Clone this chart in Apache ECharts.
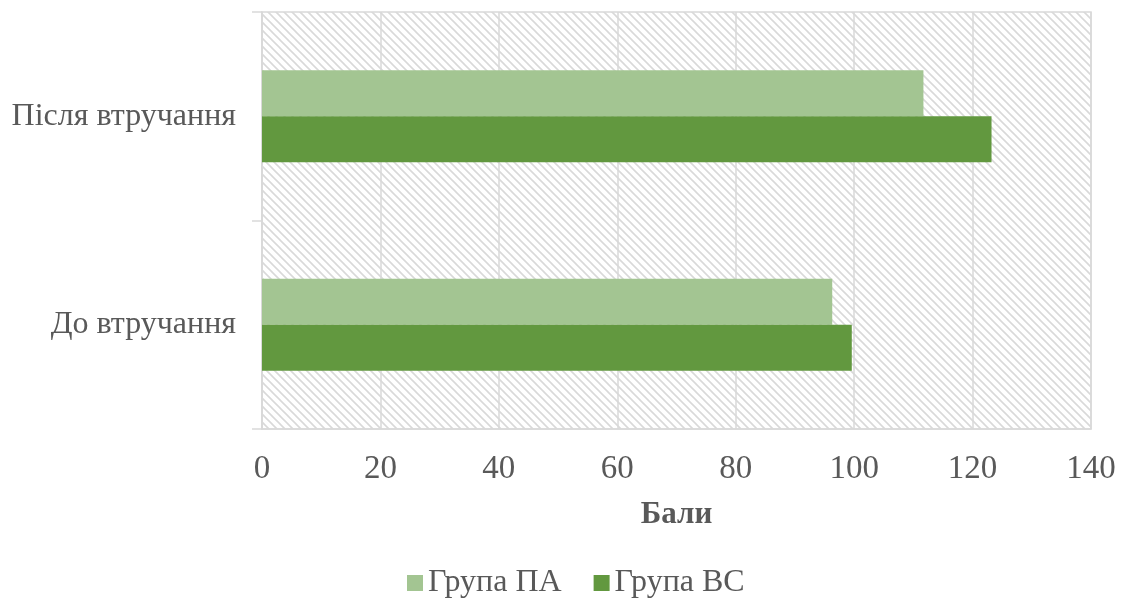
<!DOCTYPE html>
<html>
<head>
<meta charset="utf-8">
<script src="https://cdn.jsdelivr.net/npm/echarts@6/dist/echarts.min.js"></script>
<style>
html,body{margin:0;padding:0;background:#fff;}
#chart{width:1121px;height:605px;}
</style>
</head>
<body>
<div id="chart"></div>
<script>
// Categories (bottom to top) and scores per group
const categories = ['До втручання', 'Після втручання'];
const seriesNames = ['Група ПА', 'Група ВС'];
const groupPA = [96.3, 111.7];
const groupVS = [99.6, 123.2];
const axisName = 'Бали';

const textColor = '#595959';
const font = 'Liberation Serif';

// Diagonal hatch fill for the plot background
function hatchPattern() {
  const s = 8;
  const c = document.createElement('canvas');
  c.width = s; c.height = s;
  const g = c.getContext('2d');
  g.fillStyle = '#ffffff';
  g.fillRect(0, 0, s, s);
  g.strokeStyle = '#d9d9d9';
  g.lineWidth = 1.6;
  g.beginPath();
  g.moveTo(-2, -2); g.lineTo(s + 2, s + 2);
  g.moveTo(-2, s - 2); g.lineTo(2, s + 2);
  g.moveTo(s - 2, -2); g.lineTo(s + 2, 2);
  g.stroke();
  return c;
}

const chart = echarts.init(document.getElementById('chart'));
chart.setOption({
  backgroundColor: '#ffffff',
  animation: false,
  textStyle: { fontFamily: font, color: textColor },
  grid: {
    left: 262, right: 30, top: 12, bottom: 176,
    show: true,
    backgroundColor: { image: hatchPattern(), repeat: 'repeat' },
    borderColor: '#d9d9d9',
    borderWidth: 1.5
  },
  legend: {
    bottom: 1,
    left: 402,
    icon: 'rect',
    itemWidth: 16,
    itemHeight: 16,
    itemGap: 32,
    data: seriesNames,
    textStyle: { fontFamily: font, fontSize: 32, color: textColor }
  },
  xAxis: {
    type: 'value',
    min: 0, max: 140, interval: 20,
    name: axisName,
    nameLocation: 'middle',
    nameGap: 70,
    nameTextStyle: { fontFamily: font, fontSize: 31, fontWeight: 'bold', color: textColor },
    axisLine: { show: true, lineStyle: { color: '#d9d9d9', width: 1.5 } },
    axisTick: { show: false },
    axisLabel: { fontFamily: font, fontSize: 33, color: textColor, margin: 24 },
    splitLine: { show: true, lineStyle: { color: '#d9d9d9', width: 1.5 } }
  },
  yAxis: {
    type: 'category',
    data: categories,
    axisLine: { show: true, lineStyle: { color: '#d9d9d9', width: 1.5 } },
    axisTick: { show: true, length: 10, lineStyle: { color: '#d9d9d9', width: 1.5 } },
    axisLabel: { fontFamily: font, fontSize: 32, color: textColor, margin: 26, padding: [8, 0, 0, 0] },
    splitLine: { show: false }
  },
  series: [
    {
      name: seriesNames[0], type: 'bar', data: groupPA,
      barWidth: 46, barGap: '0%',
      itemStyle: { color: '#a3c592' }
    },
    {
      name: seriesNames[1], type: 'bar', data: groupVS,
      barWidth: 46, barGap: '0%',
      itemStyle: { color: '#62983f' }
    }
  ]
});
</script>
</body>
</html>
